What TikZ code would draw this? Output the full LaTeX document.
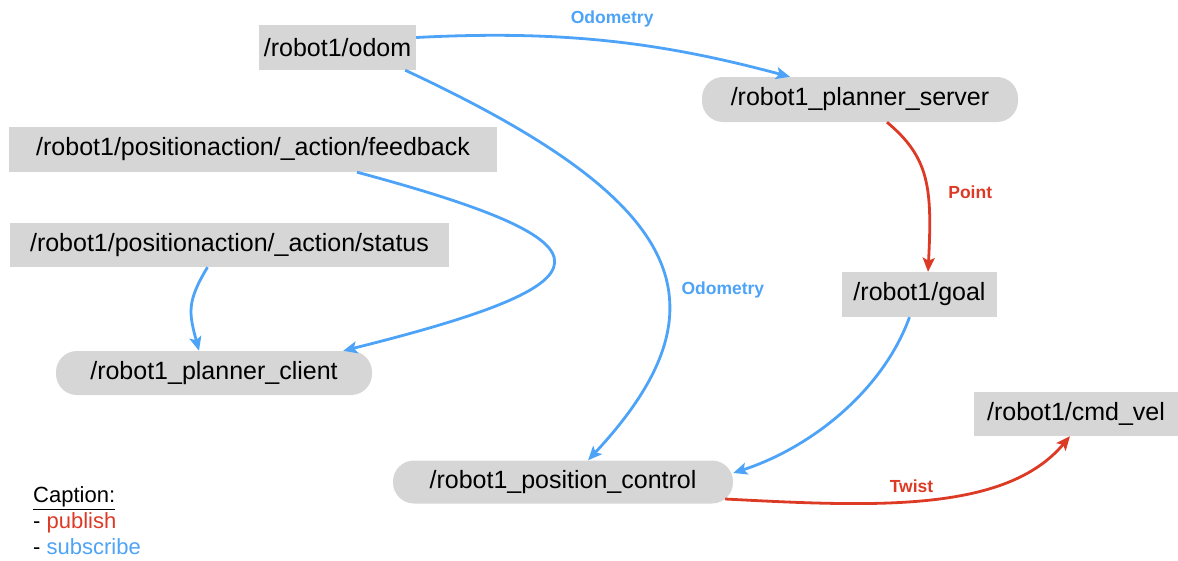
\documentclass[tikz,border=0pt]{standalone}
\usepackage{fontspec}
\setmainfont{Liberation Sans}
\usetikzlibrary{positioning,arrows.meta}
\definecolor{subblue}{RGB}{77,163,247}
\definecolor{pubred}{RGB}{221,58,38}
\definecolor{boxgray}{RGB}{214,214,214}

\begin{document}
\begin{tikzpicture}[x=1pt,y=1pt]
\tikzset{
    topic/.style={rectangle, fill=boxgray, minimum height=45pt, inner sep=0pt, font=\fontsize{25}{28}\selectfont},
    rosnode/.style={topic, rounded corners=21pt},
    every node/.style={text centered},
    sub/.style={-{Stealth[length=14pt,width=12pt,inset=3pt]}, line width=2.8pt, color=subblue},
    pub/.style={sub, color=pubred},
    sublabel/.style={font=\fontsize{17.5}{19}\selectfont\bfseries, text=subblue},
    publabel/.style={sublabel, text=pubred}
}
\useasboundingbox (0,0) rectangle (1178,-560);

% Topics and nodes, placed by hand
\node[topic, minimum width=157pt] (odom) at (337.5,-47.5) {/robot1/odom};
\node[rosnode, minimum width=316pt] (server) at (860,-99.5) {/robot1\_planner\_server};
\node[topic, minimum width=488pt] (feedback) at (253,-149.5) {/robot1/positionaction/\_action/feedback};
\node[topic, minimum width=439pt, minimum height=44pt] (status) at (229.5,-245) {/robot1/positionaction/\_action/status};
\node[rosnode, minimum width=316pt, minimum height=44pt] (client) at (214,-373) {/robot1\_planner\_client};
\node[topic, minimum width=155pt] (goal) at (919.5,-294.5) {/robot1/goal};
\node[topic, minimum width=204pt, minimum height=44pt] (cmdvel) at (1076,-414) {/robot1/cmd\_vel};
\node[rosnode, minimum width=340pt, minimum height=43pt] (control) at (563,-482) {/robot1\_position\_control};

% Caption
\node[anchor=west, align=left, inner sep=0pt, font=\fontsize{22}{26}\selectfont] (caption) at (33,-521)
    {\underline{Caption:}\\- \textcolor{pubred}{publish}\\- \textcolor{subblue}{subscribe}};

% Subscriptions
\draw[sub] ([yshift=10pt]odom.east) .. controls +(3:150) and +(165:130) .. ([xshift=-70pt]server.north)
    node[sublabel, midway, above=10pt] {Odometry};
\draw[sub] ([xshift=-11pt]odom.south east) .. controls +(-25:300) and +(47:220) .. ([xshift=25pt]control.north)
    node[sublabel, pos=0.6, right=10pt] {Odometry};
\draw[sub] ([xshift=104pt]feedback.south) .. controls +(-15:280) and +(14:280) .. ([xshift=-29pt]client.north east);
\draw[sub] ([xshift=-22pt]status.south) .. controls +(239:40) and +(105:40) .. ([xshift=-15pt]client.north);
\draw[sub] ([xshift=-10pt]goal.south) .. controls +(-110:80) and +(18:80) .. ([yshift=9pt]control.east);

% Publications
\draw[pub] ([xshift=27pt]server.south) .. controls +(-40:55) and +(87:85) .. ([xshift=8.5pt]goal.north)
    node[publabel, pos=0.6, right=16pt] {Point};
\draw[pub] ([xshift=-8pt,yshift=-17pt]control.east) .. controls +(-3:150) and +(-130:100) .. ([xshift=-6pt]cmdvel.south)
    node[publabel, pos=0.45, above=4pt] {Twist};
\end{tikzpicture}
\end{document}
